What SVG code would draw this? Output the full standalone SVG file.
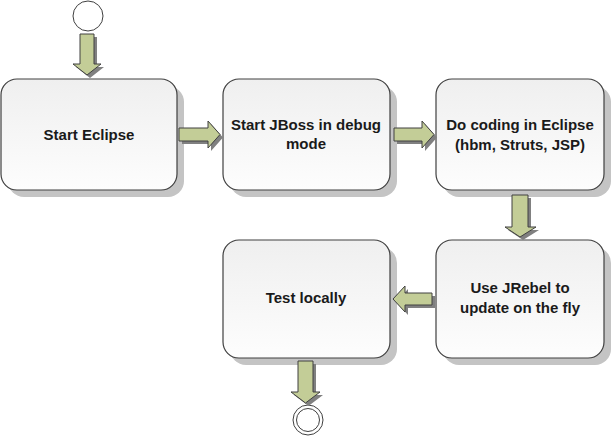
<svg xmlns="http://www.w3.org/2000/svg" width="613" height="436" viewBox="0 0 613 436">
<style>
.box{fill:url(#g);stroke:#404040;stroke-width:1.2}
.sh{fill:#c4c4c4}
.t{font-family:"Liberation Sans",Arial,sans-serif;font-weight:bold;font-size:15px;fill:#1a1a1a;text-anchor:middle}
.ar{fill:#c3cd97;stroke:#404040;stroke-width:1}
.as{fill:#808080}
.c{fill:#fff;stroke:#404040;stroke-width:1}
</style>
<defs>
<linearGradient id="g" x1="0" y1="0" x2="0" y2="1">
<stop offset="0" stop-color="#efefef"/>
<stop offset="1" stop-color="#fdfdfd"/>
</linearGradient>
</defs>
<rect width="613" height="436" fill="#fff"/>
<g id="start"><circle class="c" cx="88" cy="16" r="15"/></g>
<g id="n1">
<rect class="sh" x="8" y="86" width="176" height="111" rx="16"/>
<rect class="box" x="1" y="79" width="176" height="111" rx="16"/>
<text class="t" x="89" y="140">Start Eclipse</text>
</g>
<g id="n2">
<rect class="sh" x="230" y="86" width="167" height="111" rx="16"/>
<rect class="box" x="223" y="79" width="167" height="111" rx="16"/>
<text class="t" x="306" y="130">Start JBoss in debug</text>
<text class="t" x="306" y="149">mode</text>
</g>
<g id="n3">
<rect class="sh" x="443" y="86" width="168" height="111" rx="16"/>
<rect class="box" x="436" y="79" width="168" height="111" rx="16"/>
<text class="t" x="520" y="130">Do coding in Eclipse</text>
<text class="t" x="520" y="150">(hbm, Struts, JSP)</text>
</g>
<g id="n4">
<rect class="sh" x="230" y="247" width="167" height="118" rx="16"/>
<rect class="box" x="223" y="240" width="167" height="118" rx="16"/>
<text class="t" x="306" y="303">Test locally</text>
</g>
<g id="n5">
<rect class="sh" x="443" y="247" width="168" height="118" rx="16"/>
<rect class="box" x="436" y="240" width="168" height="118" rx="16"/>
<text class="t" x="520" y="293">Use JRebel to</text>
<text class="t" x="520" y="313">update on the fly</text>
</g>
<g id="end">
<circle class="c" cx="308" cy="420" r="15"/>
<circle class="c" cx="308" cy="420" r="11.5"/>
</g>
<g id="connectors">
<g transform="translate(3,3)">
<polygon class="as" points="80,34 94,34 94,64 101,64 87,75 73,64 80,64"/>
<polygon class="as" points="179,128 208,128 208,121 220,134.5 208,148 208,141 179,141"/>
<polygon class="as" points="394,128 422,128 422,121 434,134.5 422,148 422,141 394,141"/>
<polygon class="as" points="512,195 528,195 528,227 536,227 520,237 505,227 512,227"/>
<polygon class="as" points="432,293 405,293 405,286 393,299 405,312 405,305 432,305"/>
<polygon class="as" points="298,361 313,361 313,392 320,392 305.5,403 291,392 298,392"/>
</g>
<polygon class="ar" points="80,34 94,34 94,64 101,64 87,75 73,64 80,64"/>
<polygon class="ar" points="179,128 208,128 208,121 220,134.5 208,148 208,141 179,141"/>
<polygon class="ar" points="394,128 422,128 422,121 434,134.5 422,148 422,141 394,141"/>
<polygon class="ar" points="512,195 528,195 528,227 536,227 520,237 505,227 512,227"/>
<polygon class="ar" points="432,293 405,293 405,286 393,299 405,312 405,305 432,305"/>
<polygon class="ar" points="298,361 313,361 313,392 320,392 305.5,403 291,392 298,392"/>
</g>
</svg>
